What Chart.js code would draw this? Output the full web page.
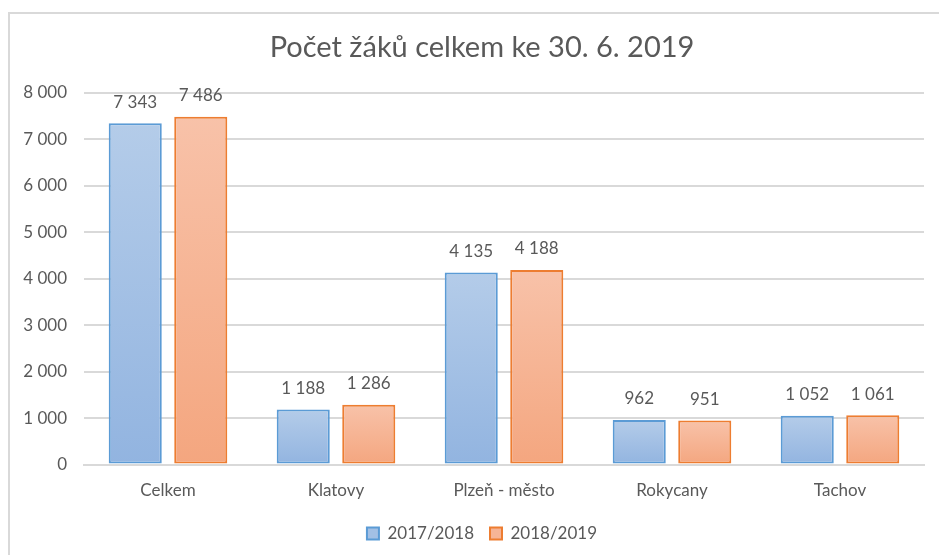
<!DOCTYPE html>
<head>
    <title>Počet žáků celkem</title>
    <script src="https://cdn.jsdelivr.net/npm/chart.js"></script>
    <style>
        body { margin: 0; overflow: hidden; background: white; }
        #ramecek {
            position: absolute; left: 8px; top: 12px;
            width: 945px; height: 560px;
            border: 2px solid #d9d9d9; box-sizing: border-box;
        }
        #graf { position: absolute; left: 0; top: 0; width: 939px; height: 555px; }
    </style>
</head>
<body>
<div id="ramecek"></div>
<div id="graf">
    <canvas id="barChart"></canvas>
</div>
<script>
const okresy = ['Celkem', 'Klatovy', 'Plzeň - město', 'Rokycany', 'Tachov'];
const rok2018 = [7343, 1188, 4135, 962, 1052];
const rok2019 = [7486, 1286, 4188, 951, 1061];
const nazvyRad = ['2017/2018', '2018/2019'];
const osaY = [0, 1000, 2000, 3000, 4000, 5000, 6000, 7000, 8000];

const pismo = 'Lato';
const seda = '#595959';

function cislo(v) {
    return String(v).replace(/\B(?=(\d{3})+(?!\d))/g, ' ');
}

// gradient zvlast pro kazdy sloupec
function prechod(horni, dolni) {
    return function(ctx) {
        const chart = ctx.chart;
        if (!chart.chartArea || ctx.raw === undefined) return dolni;
        const y = chart.scales.y;
        const top = y.getPixelForValue(ctx.raw);
        const bottom = y.getPixelForValue(0);
        const g = chart.ctx.createLinearGradient(0, top, 0, bottom);
        g.addColorStop(0, horni);
        g.addColorStop(1, dolni);
        return g;
    };
}

// popisky nad sloupci
const popisky = {
    id: 'popisky',
    afterDatasetsDraw(chart) {
        const ctx = chart.ctx;
        ctx.save();
        ctx.font = '17px ' + pismo;
        ctx.fillStyle = seda;
        ctx.textAlign = 'center';
        ctx.textBaseline = 'middle';
        chart.data.datasets.forEach((ds, i) => {
            chart.getDatasetMeta(i).data.forEach((bar, j) => {
                ctx.fillText(cislo(ds.data[j]), bar.x, bar.y - 21);
            });
        });
        ctx.restore();
    }
};

new Chart(document.getElementById('barChart'), {
    type: 'bar',
    data: {
        labels: okresy,
        datasets: [{
            label: nazvyRad[0],
            data: rok2018,
            backgroundColor: prechod('#b4cce9', '#92b4e0'),
            borderColor: '#5b9bd5',
            borderWidth: 2,
            borderSkipped: false
        }, {
            label: nazvyRad[1],
            data: rok2019,
            backgroundColor: prechod('#f8c2a9', '#f4a67f'),
            borderColor: '#ed7d31',
            borderWidth: 2,
            borderSkipped: false
        }]
    },
    options: {
        responsive: true,
        maintainAspectRatio: false,
        animation: false,
        categoryPercentage: 0.78,
        barPercentage: 0.81,
        layout: { padding: { left: 40, right: 15, top: 30, bottom: 3 } },
        plugins: {
            title: {
                display: true,
                text: 'Počet žáků celkem ke 30. 6. 2019',
                color: seda,
                font: { family: pismo, size: 29, weight: 'normal' },
                padding: { top: 0, bottom: 28 }
            },
            legend: {
                position: 'bottom',
                labels: {
                    color: seda,
                    font: { family: pismo, size: 17 },
                    boxWidth: 12,
                    boxHeight: 12,
                    padding: 16,
                    generateLabels(chart) {
                        const barvy = [['#a3c0e5', '#5b9bd5'], ['#f6b496', '#ed7d31']];
                        return chart.data.datasets.map((ds, i) => ({
                            text: ds.label,
                            fillStyle: barvy[i][0],
                            strokeStyle: barvy[i][1],
                            lineWidth: 2,
                            fontColor: seda,
                            datasetIndex: i
                        }));
                    }
                }
            },
            tooltip: { enabled: false }
        },
        scales: {
            x: {
                grid: { display: false },
                border: { color: '#d9d9d9', width: 2 },
                ticks: { color: seda, font: { family: pismo, size: 17 }, padding: 8 }
            },
            y: {
                min: 0,
                max: 8000,
                afterBuildTicks(axis) { axis.ticks = osaY.map(v => ({ value: v })); },
                afterFit(axis) {
                    // uzsi osa, popisky smi presahovat doleva
                    axis.width = 44;
                    axis._computeLabelArea = () => null;
                },
                grid: { color: '#d9d9d9', lineWidth: 2, drawTicks: false },
                border: { display: false },
                ticks: {
                    color: seda,
                    font: { family: pismo, size: 17 },
                    padding: 17,
                    callback: v => cislo(v)
                }
            }
        }
    },
    plugins: [popisky]
});
</script>
</body>
